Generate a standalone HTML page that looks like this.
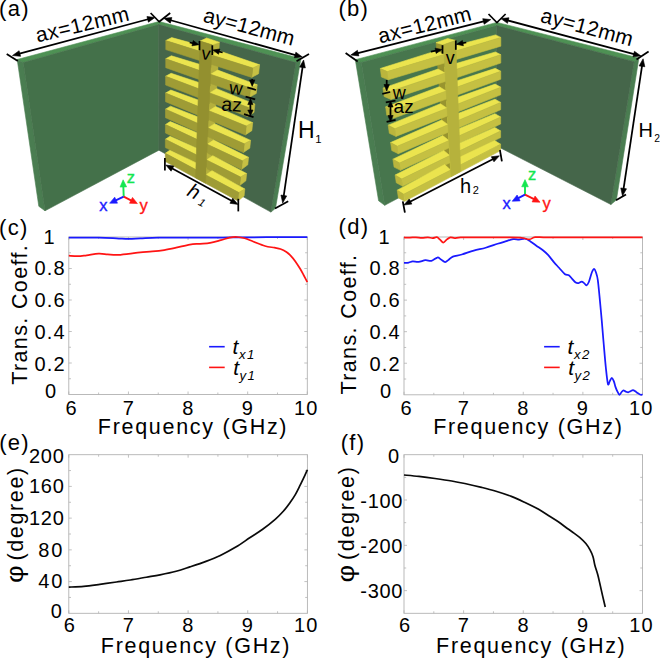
<!DOCTYPE html>
<html><head><meta charset="utf-8"><title>figure</title>
<style>html,body{margin:0;padding:0;background:#fff;}svg{display:block;}text{font-family:"Liberation Sans",sans-serif;}</style>
</head><body>
<svg width="660" height="658" viewBox="0 0 660 658">
<rect x="0" y="0" width="660" height="658" fill="#ffffff"/>
<g>
<rect x="68.80" y="237.00" width="238.50" height="157.50" fill="none" stroke="#b2b2b2" stroke-width="0.9"/>
<path d="M68.80,394.50 v-3.00 M68.80,237.00 v3.00" stroke="#b2b2b2" stroke-width="0.8" fill="none"/>
<path d="M98.61,394.50 v-2.00 M98.61,237.00 v2.00" stroke="#b2b2b2" stroke-width="0.8" fill="none"/>
<path d="M128.43,394.50 v-3.00 M128.43,237.00 v3.00" stroke="#b2b2b2" stroke-width="0.8" fill="none"/>
<path d="M158.24,394.50 v-2.00 M158.24,237.00 v2.00" stroke="#b2b2b2" stroke-width="0.8" fill="none"/>
<path d="M188.05,394.50 v-3.00 M188.05,237.00 v3.00" stroke="#b2b2b2" stroke-width="0.8" fill="none"/>
<path d="M217.86,394.50 v-2.00 M217.86,237.00 v2.00" stroke="#b2b2b2" stroke-width="0.8" fill="none"/>
<path d="M247.68,394.50 v-3.00 M247.68,237.00 v3.00" stroke="#b2b2b2" stroke-width="0.8" fill="none"/>
<path d="M277.49,394.50 v-2.00 M277.49,237.00 v2.00" stroke="#b2b2b2" stroke-width="0.8" fill="none"/>
<path d="M307.30,394.50 v-3.00 M307.30,237.00 v3.00" stroke="#b2b2b2" stroke-width="0.8" fill="none"/>
<path d="M68.80,363.00 h3 M307.30,363.00 h-3" stroke="#b2b2b2" stroke-width="0.8" fill="none"/>
<path d="M68.80,331.50 h3 M307.30,331.50 h-3" stroke="#b2b2b2" stroke-width="0.8" fill="none"/>
<path d="M68.80,300.00 h3 M307.30,300.00 h-3" stroke="#b2b2b2" stroke-width="0.8" fill="none"/>
<path d="M68.80,268.50 h3 M307.30,268.50 h-3" stroke="#b2b2b2" stroke-width="0.8" fill="none"/>
<path d="M68.80,378.75 h2.2 M307.30,378.75 h-2.2" stroke="#b2b2b2" stroke-width="0.8" fill="none"/>
<path d="M68.80,347.25 h2.2 M307.30,347.25 h-2.2" stroke="#b2b2b2" stroke-width="0.8" fill="none"/>
<path d="M68.80,315.75 h2.2 M307.30,315.75 h-2.2" stroke="#b2b2b2" stroke-width="0.8" fill="none"/>
<path d="M68.80,284.25 h2.2 M307.30,284.25 h-2.2" stroke="#b2b2b2" stroke-width="0.8" fill="none"/>
<path d="M68.80,252.75 h2.2 M307.30,252.75 h-2.2" stroke="#b2b2b2" stroke-width="0.8" fill="none"/>
<path d="M68.80,237.63 C73.77,237.63 90.66,237.53 98.61,237.63 C106.56,237.73 111.53,238.05 116.50,238.26 C121.47,238.47 124.45,238.86 128.43,238.89 C132.40,238.92 135.38,238.63 140.35,238.42 C145.32,238.21 150.29,237.76 158.24,237.63 C166.19,237.50 178.11,237.63 188.05,237.63 C197.99,237.63 209.91,237.68 217.86,237.63 C225.81,237.58 230.78,237.37 235.75,237.31 C240.72,237.26 240.72,237.34 247.68,237.31 C254.63,237.29 267.55,237.18 277.49,237.16 C287.43,237.13 302.33,237.16 307.30,237.16" fill="none" stroke="#1a1aff" stroke-width="1.75" stroke-linejoin="round" stroke-linecap="butt"/>
<path d="M68.80,255.59 C70.29,255.69 74.76,256.27 77.74,256.22 C80.73,256.16 83.21,255.69 86.69,255.27 C90.17,254.85 95.13,253.85 98.61,253.69 C102.09,253.54 104.58,254.11 107.56,254.32 C110.54,254.53 113.02,255.03 116.50,254.96 C119.98,254.88 124.45,254.30 128.43,253.85 C132.40,253.41 136.38,252.67 140.35,252.28 C144.33,251.88 148.30,251.86 152.28,251.49 C156.25,251.12 160.22,250.70 164.20,250.07 C168.17,249.44 171.85,248.63 176.12,247.71 C180.40,246.79 185.86,245.22 189.84,244.56 C193.81,243.90 196.60,244.06 199.97,243.77 C203.35,243.48 206.63,243.43 210.11,242.83 C213.59,242.22 217.56,241.02 220.84,240.15 C224.12,239.28 227.10,238.16 229.79,237.63 C232.47,237.10 234.46,236.90 236.94,237.00 C239.43,237.10 241.91,237.47 244.69,238.26 C247.48,239.05 250.26,240.44 253.64,241.72 C257.02,243.01 261.49,244.98 264.97,245.98 C268.44,246.98 271.92,247.21 274.51,247.71 C277.09,248.21 278.48,248.26 280.47,248.97 C282.46,249.68 284.74,250.86 286.43,251.96 C288.12,253.06 289.11,254.01 290.61,255.59 C292.10,257.16 293.79,259.21 295.38,261.41 C296.97,263.62 298.75,266.50 300.15,268.81 C301.54,271.12 302.53,273.07 303.72,275.27 C304.91,277.48 306.70,280.92 307.30,282.05" fill="none" stroke="#ff1414" stroke-width="1.75" stroke-linejoin="round" stroke-linecap="butt"/>
</g>
<path d="M209.10,346.7 h15.6" stroke="#1a1aff" stroke-width="1.6"/><path d="M209.10,367.4 h15.6" stroke="#ff1414" stroke-width="1.6"/>
<text x="232.60" y="353.7" font-size="21" font-style="italic" font-family="Liberation Sans, sans-serif">t</text><text x="239.00" y="358.7" font-size="13.2" font-style="italic" letter-spacing="1.4" font-family="Liberation Sans, sans-serif">x1</text>
<text x="233.30" y="374.7" font-size="21" font-style="italic" font-family="Liberation Sans, sans-serif">t</text><text x="239.40" y="379.7" font-size="13.2" font-style="italic" letter-spacing="1.4" font-family="Liberation Sans, sans-serif">y1</text>
<g>
<rect x="404.00" y="237.00" width="238.50" height="157.80" fill="none" stroke="#b2b2b2" stroke-width="0.9"/>
<path d="M404.00,394.80 v-3.00 M404.00,237.00 v3.00" stroke="#b2b2b2" stroke-width="0.8" fill="none"/>
<path d="M433.81,394.80 v-2.00 M433.81,237.00 v2.00" stroke="#b2b2b2" stroke-width="0.8" fill="none"/>
<path d="M463.62,394.80 v-3.00 M463.62,237.00 v3.00" stroke="#b2b2b2" stroke-width="0.8" fill="none"/>
<path d="M493.44,394.80 v-2.00 M493.44,237.00 v2.00" stroke="#b2b2b2" stroke-width="0.8" fill="none"/>
<path d="M523.25,394.80 v-3.00 M523.25,237.00 v3.00" stroke="#b2b2b2" stroke-width="0.8" fill="none"/>
<path d="M553.06,394.80 v-2.00 M553.06,237.00 v2.00" stroke="#b2b2b2" stroke-width="0.8" fill="none"/>
<path d="M582.88,394.80 v-3.00 M582.88,237.00 v3.00" stroke="#b2b2b2" stroke-width="0.8" fill="none"/>
<path d="M612.69,394.80 v-2.00 M612.69,237.00 v2.00" stroke="#b2b2b2" stroke-width="0.8" fill="none"/>
<path d="M642.50,394.80 v-3.00 M642.50,237.00 v3.00" stroke="#b2b2b2" stroke-width="0.8" fill="none"/>
<path d="M404.00,363.24 h3 M642.50,363.24 h-3" stroke="#b2b2b2" stroke-width="0.8" fill="none"/>
<path d="M404.00,331.68 h3 M642.50,331.68 h-3" stroke="#b2b2b2" stroke-width="0.8" fill="none"/>
<path d="M404.00,300.12 h3 M642.50,300.12 h-3" stroke="#b2b2b2" stroke-width="0.8" fill="none"/>
<path d="M404.00,268.56 h3 M642.50,268.56 h-3" stroke="#b2b2b2" stroke-width="0.8" fill="none"/>
<path d="M404.00,379.02 h2.2 M642.50,379.02 h-2.2" stroke="#b2b2b2" stroke-width="0.8" fill="none"/>
<path d="M404.00,347.46 h2.2 M642.50,347.46 h-2.2" stroke="#b2b2b2" stroke-width="0.8" fill="none"/>
<path d="M404.00,315.90 h2.2 M642.50,315.90 h-2.2" stroke="#b2b2b2" stroke-width="0.8" fill="none"/>
<path d="M404.00,284.34 h2.2 M642.50,284.34 h-2.2" stroke="#b2b2b2" stroke-width="0.8" fill="none"/>
<path d="M404.00,252.78 h2.2 M642.50,252.78 h-2.2" stroke="#b2b2b2" stroke-width="0.8" fill="none"/>
<path d="M404.00,262.88 C404.80,262.83 407.32,262.80 408.77,262.56 C410.22,262.33 411.07,261.56 412.71,261.46 C414.34,261.35 416.48,262.14 418.61,261.93 C420.73,261.72 423.33,260.38 425.47,260.20 C427.60,260.01 429.44,261.27 431.43,260.83 C433.42,260.38 435.80,257.75 437.39,257.51 C438.98,257.28 439.68,258.64 440.97,259.41 C442.26,260.17 443.85,262.04 445.14,262.09 C446.43,262.14 447.43,260.64 448.72,259.72 C450.01,258.80 450.71,257.44 452.89,256.57 C455.08,255.70 458.36,255.52 461.84,254.52 C465.31,253.52 469.79,251.70 473.76,250.57 C477.74,249.44 481.71,248.86 485.69,247.73 C489.66,246.60 494.33,244.84 497.61,243.79 C500.89,242.73 502.78,242.18 505.36,241.42 C507.95,240.66 510.83,239.52 513.11,239.21 C515.40,238.89 517.09,239.60 519.08,239.52 C521.06,239.45 523.15,238.42 525.04,238.74 C526.93,239.05 528.52,240.26 530.40,241.42 C532.29,242.58 534.28,244.21 536.37,245.68 C538.45,247.15 540.94,248.68 542.93,250.26 C544.91,251.83 546.50,253.20 548.29,255.15 C550.08,257.09 551.87,259.83 553.66,261.93 C555.45,264.04 557.14,265.72 559.02,267.77 C560.91,269.82 563.35,273.00 564.99,274.24 C566.63,275.48 567.67,274.42 568.86,275.19 C570.06,275.95 571.00,277.58 572.14,278.82 C573.29,280.05 574.63,281.89 575.72,282.60 C576.81,283.31 577.71,283.24 578.70,283.08 C579.69,282.92 580.79,281.66 581.68,281.66 C582.58,281.66 583.27,282.47 584.07,283.08 C584.86,283.68 585.66,285.47 586.45,285.29 C587.25,285.10 587.94,284.10 588.84,281.97 C589.73,279.84 590.92,274.69 591.82,272.50 C592.71,270.32 593.51,268.88 594.20,268.88 C594.90,268.88 595.40,270.69 595.99,272.50 C596.59,274.32 597.19,275.69 597.78,279.76 C598.38,283.84 598.90,290.10 599.57,296.96 C600.24,303.83 601.08,313.06 601.78,320.95 C602.47,328.84 603.07,336.55 603.74,344.30 C604.42,352.06 605.13,360.90 605.83,367.50 C606.53,374.10 607.27,381.60 607.92,383.91 C608.56,386.23 609.05,382.41 609.71,381.39 C610.36,380.36 611.16,377.76 611.85,377.76 C612.55,377.76 613.29,379.91 613.88,381.39 C614.47,382.86 614.77,384.88 615.37,386.59 C615.97,388.30 616.77,390.28 617.46,391.64 C618.14,393.01 618.79,394.75 619.48,394.80 C620.18,394.85 620.98,392.70 621.63,391.96 C622.29,391.22 622.72,390.43 623.42,390.38 C624.12,390.33 625.01,391.33 625.81,391.64 C626.60,391.96 627.40,392.35 628.19,392.28 C628.99,392.20 629.78,391.54 630.58,391.17 C631.37,390.80 632.17,390.04 632.96,390.07 C633.75,390.09 634.65,390.88 635.35,391.33 C636.04,391.78 636.44,392.28 637.13,392.75 C637.83,393.22 638.82,393.83 639.52,394.17 C640.21,394.51 640.81,394.80 641.31,394.80 C641.80,394.80 642.30,394.27 642.50,394.17" fill="none" stroke="#1a1aff" stroke-width="1.75" stroke-linejoin="round" stroke-linecap="butt"/>
<path d="M404.00,237.47 C404.99,237.50 407.97,237.66 409.96,237.63 C411.95,237.60 413.94,237.26 415.93,237.32 C417.91,237.37 419.90,237.95 421.89,237.95 C423.88,237.95 426.06,237.29 427.85,237.32 C429.64,237.34 431.13,238.13 432.62,238.10 C434.11,238.08 435.60,236.95 436.79,237.16 C437.99,237.37 438.68,238.47 439.77,239.37 C440.87,240.26 442.16,242.52 443.35,242.52 C444.55,242.52 445.74,240.23 446.93,239.37 C448.12,238.50 449.22,237.53 450.51,237.32 C451.80,237.11 452.99,238.10 454.68,238.10 C456.37,238.10 457.17,237.42 460.64,237.32 C464.12,237.21 469.09,237.45 475.55,237.47 C482.01,237.50 491.95,237.45 499.40,237.47 C506.85,237.50 515.30,237.32 520.27,237.63 C525.24,237.95 526.73,239.45 529.21,239.37 C531.70,239.29 532.19,237.50 535.17,237.16 C538.16,236.82 539.15,237.29 547.10,237.32 C555.05,237.34 571.94,237.32 582.88,237.32 C593.81,237.32 602.75,237.32 612.69,237.32 C622.62,237.32 637.53,237.32 642.50,237.32" fill="none" stroke="#ff1414" stroke-width="1.75" stroke-linejoin="round" stroke-linecap="butt"/>
</g>
<path d="M544.10,346.7 h15.6" stroke="#1a1aff" stroke-width="1.6"/><path d="M544.10,367.4 h15.6" stroke="#ff1414" stroke-width="1.6"/>
<text x="567.60" y="353.7" font-size="21" font-style="italic" font-family="Liberation Sans, sans-serif">t</text><text x="574.00" y="358.7" font-size="13.2" font-style="italic" letter-spacing="1.4" font-family="Liberation Sans, sans-serif">x2</text>
<text x="568.30" y="374.7" font-size="21" font-style="italic" font-family="Liberation Sans, sans-serif">t</text><text x="574.40" y="379.7" font-size="13.2" font-style="italic" letter-spacing="1.4" font-family="Liberation Sans, sans-serif">y2</text>
<g>
<rect x="68.80" y="454.70" width="238.60" height="158.60" fill="none" stroke="#b2b2b2" stroke-width="0.9"/>
<path d="M68.80,613.30 v-3.00 M68.80,454.70 v3.00" stroke="#b2b2b2" stroke-width="0.8" fill="none"/>
<path d="M98.62,613.30 v-2.00 M98.62,454.70 v2.00" stroke="#b2b2b2" stroke-width="0.8" fill="none"/>
<path d="M128.45,613.30 v-3.00 M128.45,454.70 v3.00" stroke="#b2b2b2" stroke-width="0.8" fill="none"/>
<path d="M158.27,613.30 v-2.00 M158.27,454.70 v2.00" stroke="#b2b2b2" stroke-width="0.8" fill="none"/>
<path d="M188.10,613.30 v-3.00 M188.10,454.70 v3.00" stroke="#b2b2b2" stroke-width="0.8" fill="none"/>
<path d="M217.92,613.30 v-2.00 M217.92,454.70 v2.00" stroke="#b2b2b2" stroke-width="0.8" fill="none"/>
<path d="M247.75,613.30 v-3.00 M247.75,454.70 v3.00" stroke="#b2b2b2" stroke-width="0.8" fill="none"/>
<path d="M277.57,613.30 v-2.00 M277.57,454.70 v2.00" stroke="#b2b2b2" stroke-width="0.8" fill="none"/>
<path d="M307.40,613.30 v-3.00 M307.40,454.70 v3.00" stroke="#b2b2b2" stroke-width="0.8" fill="none"/>
<path d="M68.80,581.58 h3 M307.40,581.58 h-3" stroke="#b2b2b2" stroke-width="0.8" fill="none"/>
<path d="M68.80,549.86 h3 M307.40,549.86 h-3" stroke="#b2b2b2" stroke-width="0.8" fill="none"/>
<path d="M68.80,518.14 h3 M307.40,518.14 h-3" stroke="#b2b2b2" stroke-width="0.8" fill="none"/>
<path d="M68.80,486.42 h3 M307.40,486.42 h-3" stroke="#b2b2b2" stroke-width="0.8" fill="none"/>
<path d="M68.80,597.44 h2.2 M307.40,597.44 h-2.2" stroke="#b2b2b2" stroke-width="0.8" fill="none"/>
<path d="M68.80,565.72 h2.2 M307.40,565.72 h-2.2" stroke="#b2b2b2" stroke-width="0.8" fill="none"/>
<path d="M68.80,534.00 h2.2 M307.40,534.00 h-2.2" stroke="#b2b2b2" stroke-width="0.8" fill="none"/>
<path d="M68.80,502.28 h2.2 M307.40,502.28 h-2.2" stroke="#b2b2b2" stroke-width="0.8" fill="none"/>
<path d="M68.80,470.56 h2.2 M307.40,470.56 h-2.2" stroke="#b2b2b2" stroke-width="0.8" fill="none"/>
<path d="M68.80,587.13 C71.29,587.00 78.54,586.80 83.71,586.34 C88.88,585.88 94.35,585.08 99.82,584.36 C105.29,583.63 111.45,582.70 116.52,581.98 C121.59,581.25 125.27,580.79 130.24,579.99 C135.21,579.20 141.37,578.08 146.34,577.22 C151.32,576.36 155.09,575.83 160.06,574.84 C165.04,573.85 171.20,572.59 176.17,571.27 C181.14,569.95 184.92,568.56 189.89,566.91 C194.86,565.26 200.92,563.27 206.00,561.36 C211.07,559.44 215.34,557.79 220.31,555.41 C225.28,553.03 230.85,550.07 235.82,547.08 C240.79,544.10 245.66,540.46 250.14,537.49 C254.61,534.52 258.49,532.27 262.66,529.24 C266.84,526.22 271.71,522.37 275.19,519.33 C278.67,516.29 281.05,513.80 283.54,511.00 C286.03,508.20 288.11,505.29 290.10,502.52 C292.09,499.74 293.78,497.27 295.47,494.35 C297.16,491.43 298.85,487.77 300.24,484.99 C301.63,482.22 302.63,480.23 303.82,477.70 C305.01,475.16 306.80,471.09 307.40,469.77" fill="none" stroke="#0a0a0a" stroke-width="1.70" stroke-linejoin="round" stroke-linecap="butt"/>
</g>
<g>
<rect x="404.00" y="454.70" width="238.50" height="158.60" fill="none" stroke="#b2b2b2" stroke-width="0.9"/>
<path d="M404.00,613.30 v-3.00 M404.00,454.70 v3.00" stroke="#b2b2b2" stroke-width="0.8" fill="none"/>
<path d="M433.81,613.30 v-2.00 M433.81,454.70 v2.00" stroke="#b2b2b2" stroke-width="0.8" fill="none"/>
<path d="M463.62,613.30 v-3.00 M463.62,454.70 v3.00" stroke="#b2b2b2" stroke-width="0.8" fill="none"/>
<path d="M493.44,613.30 v-2.00 M493.44,454.70 v2.00" stroke="#b2b2b2" stroke-width="0.8" fill="none"/>
<path d="M523.25,613.30 v-3.00 M523.25,454.70 v3.00" stroke="#b2b2b2" stroke-width="0.8" fill="none"/>
<path d="M553.06,613.30 v-2.00 M553.06,454.70 v2.00" stroke="#b2b2b2" stroke-width="0.8" fill="none"/>
<path d="M582.88,613.30 v-3.00 M582.88,454.70 v3.00" stroke="#b2b2b2" stroke-width="0.8" fill="none"/>
<path d="M612.69,613.30 v-2.00 M612.69,454.70 v2.00" stroke="#b2b2b2" stroke-width="0.8" fill="none"/>
<path d="M642.50,613.30 v-3.00 M642.50,454.70 v3.00" stroke="#b2b2b2" stroke-width="0.8" fill="none"/>
<path d="M404.00,590.64 h3 M642.50,590.64 h-3" stroke="#b2b2b2" stroke-width="0.8" fill="none"/>
<path d="M404.00,545.33 h3 M642.50,545.33 h-3" stroke="#b2b2b2" stroke-width="0.8" fill="none"/>
<path d="M404.00,500.01 h3 M642.50,500.01 h-3" stroke="#b2b2b2" stroke-width="0.8" fill="none"/>
<path d="M404.00,477.36 h2.2 M642.50,477.36 h-2.2" stroke="#b2b2b2" stroke-width="0.8" fill="none"/>
<path d="M404.00,522.67 h2.2 M642.50,522.67 h-2.2" stroke="#b2b2b2" stroke-width="0.8" fill="none"/>
<path d="M404.00,567.99 h2.2 M642.50,567.99 h-2.2" stroke="#b2b2b2" stroke-width="0.8" fill="none"/>
<path d="M404.00,475.00 C406.48,475.24 413.74,475.87 418.91,476.45 C424.07,477.03 429.54,477.73 435.00,478.49 C440.47,479.25 446.73,480.14 451.70,480.98 C456.67,481.82 459.85,482.46 464.82,483.52 C469.79,484.58 476.44,486.09 481.51,487.33 C486.58,488.56 490.26,489.44 495.23,490.95 C500.20,492.46 506.36,494.46 511.32,496.39 C516.29,498.31 520.57,500.39 525.04,502.51 C529.51,504.62 533.98,506.74 538.16,509.08 C542.33,511.41 546.60,514.32 550.08,516.51 C553.56,518.70 556.14,520.21 559.02,522.22 C561.91,524.23 564.89,526.75 567.37,528.56 C569.86,530.37 571.84,531.58 573.93,533.09 C576.02,534.60 577.91,535.89 579.89,537.63 C581.88,539.36 584.17,541.48 585.86,543.52 C587.55,545.56 588.84,547.67 590.03,549.86 C591.22,552.05 592.22,554.13 593.01,556.66 C593.81,559.19 594.00,562.02 594.80,565.04 C595.59,568.06 596.89,571.45 597.78,574.78 C598.68,578.11 599.37,581.55 600.17,585.02 C600.96,588.50 601.71,591.97 602.55,595.63 C603.40,599.28 604.79,605.07 605.23,606.96" fill="none" stroke="#0a0a0a" stroke-width="1.70" stroke-linejoin="round" stroke-linecap="butt"/>
</g>
<text x="65.70" y="275.30" font-size="20.00" text-anchor="end" font-family="Liberation Sans, sans-serif" letter-spacing="1.10"  fill="#000">0.8</text>
<text x="65.70" y="307.20" font-size="20.00" text-anchor="end" font-family="Liberation Sans, sans-serif" letter-spacing="1.10"  fill="#000">0.6</text>
<text x="65.70" y="339.20" font-size="20.00" text-anchor="end" font-family="Liberation Sans, sans-serif" letter-spacing="1.10"  fill="#000">0.4</text>
<text x="65.70" y="371.10" font-size="20.00" text-anchor="end" font-family="Liberation Sans, sans-serif" letter-spacing="1.10"  fill="#000">0.2</text>
<text x="43.60" y="244.00" font-size="20.00" text-anchor="start" font-family="Liberation Sans, sans-serif"   fill="#000">1</text>
<text x="57.30" y="398.40" font-size="20.00" text-anchor="end" font-family="Liberation Sans, sans-serif" letter-spacing="1.10"  fill="#000">0</text>
<text x="71.65" y="414.80" font-size="20.00" text-anchor="middle" font-family="Liberation Sans, sans-serif" letter-spacing="1.10"  fill="#000">6</text>
<text x="128.75" y="414.80" font-size="20.00" text-anchor="middle" font-family="Liberation Sans, sans-serif" letter-spacing="1.10"  fill="#000">7</text>
<text x="188.35" y="414.80" font-size="20.00" text-anchor="middle" font-family="Liberation Sans, sans-serif" letter-spacing="1.10"  fill="#000">8</text>
<text x="247.95" y="414.80" font-size="20.00" text-anchor="middle" font-family="Liberation Sans, sans-serif" letter-spacing="1.10"  fill="#000">9</text>
<text x="306.35" y="414.80" font-size="20.00" text-anchor="middle" font-family="Liberation Sans, sans-serif" letter-spacing="1.10"  fill="#000">10</text>
<text x="400.70" y="275.30" font-size="20.00" text-anchor="end" font-family="Liberation Sans, sans-serif" letter-spacing="1.10"  fill="#000">0.8</text>
<text x="400.70" y="307.20" font-size="20.00" text-anchor="end" font-family="Liberation Sans, sans-serif" letter-spacing="1.10"  fill="#000">0.6</text>
<text x="400.70" y="339.20" font-size="20.00" text-anchor="end" font-family="Liberation Sans, sans-serif" letter-spacing="1.10"  fill="#000">0.4</text>
<text x="400.70" y="371.10" font-size="20.00" text-anchor="end" font-family="Liberation Sans, sans-serif" letter-spacing="1.10"  fill="#000">0.2</text>
<text x="378.60" y="244.00" font-size="20.00" text-anchor="start" font-family="Liberation Sans, sans-serif"   fill="#000">1</text>
<text x="392.30" y="398.40" font-size="20.00" text-anchor="end" font-family="Liberation Sans, sans-serif" letter-spacing="1.10"  fill="#000">0</text>
<text x="406.65" y="414.80" font-size="20.00" text-anchor="middle" font-family="Liberation Sans, sans-serif" letter-spacing="1.10"  fill="#000">6</text>
<text x="463.75" y="414.80" font-size="20.00" text-anchor="middle" font-family="Liberation Sans, sans-serif" letter-spacing="1.10"  fill="#000">7</text>
<text x="523.35" y="414.80" font-size="20.00" text-anchor="middle" font-family="Liberation Sans, sans-serif" letter-spacing="1.10"  fill="#000">8</text>
<text x="582.95" y="414.80" font-size="20.00" text-anchor="middle" font-family="Liberation Sans, sans-serif" letter-spacing="1.10"  fill="#000">9</text>
<text x="641.35" y="414.80" font-size="20.00" text-anchor="middle" font-family="Liberation Sans, sans-serif" letter-spacing="1.10"  fill="#000">10</text>
<text x="193.05" y="434.30" font-size="21.50" text-anchor="middle" font-family="Liberation Sans, sans-serif" letter-spacing="1.70"  fill="#000">Frequency (GHz)</text>
<text x="528.35" y="434.30" font-size="21.50" text-anchor="middle" font-family="Liberation Sans, sans-serif" letter-spacing="1.70"  fill="#000">Frequency (GHz)</text>
<text transform="translate(26.60,314.30) rotate(-90.0)" font-size="21.50" text-anchor="middle" font-family="Liberation Sans, sans-serif" letter-spacing="1.37"  fill="#000">Trans. Coeff.</text>
<text transform="translate(356.00,324.00) rotate(-90.0)" font-size="21.50" text-anchor="middle" font-family="Liberation Sans, sans-serif" letter-spacing="1.37"  fill="#000">Trans. Coeff.</text>
<text x="64.50" y="462.80" font-size="20.00" text-anchor="end" font-family="Liberation Sans, sans-serif" letter-spacing="0.70"  fill="#000">200</text>
<text x="64.50" y="493.30" font-size="20.00" text-anchor="end" font-family="Liberation Sans, sans-serif" letter-spacing="0.70"  fill="#000">160</text>
<text x="64.50" y="525.10" font-size="20.00" text-anchor="end" font-family="Liberation Sans, sans-serif" letter-spacing="0.70"  fill="#000">120</text>
<text x="64.00" y="556.80" font-size="20.00" text-anchor="end" font-family="Liberation Sans, sans-serif" letter-spacing="1.70"  fill="#000">80</text>
<text x="64.00" y="588.30" font-size="20.00" text-anchor="end" font-family="Liberation Sans, sans-serif" letter-spacing="1.70"  fill="#000">40</text>
<text x="62.60" y="618.30" font-size="20.00" text-anchor="end" font-family="Liberation Sans, sans-serif" letter-spacing="0.70"  fill="#000">0</text>
<text x="403.20" y="507.50" font-size="20.00" text-anchor="end" font-family="Liberation Sans, sans-serif" letter-spacing="0.70"  fill="#000">-100</text>
<text x="403.20" y="552.80" font-size="20.00" text-anchor="end" font-family="Liberation Sans, sans-serif" letter-spacing="0.70"  fill="#000">-200</text>
<text x="403.20" y="598.20" font-size="20.00" text-anchor="end" font-family="Liberation Sans, sans-serif" letter-spacing="0.70"  fill="#000">-300</text>
<text x="399.80" y="462.60" font-size="20.00" text-anchor="end" font-family="Liberation Sans, sans-serif" letter-spacing="0.70"  fill="#000">0</text>
<text x="69.95" y="632.20" font-size="20.00" text-anchor="middle" font-family="Liberation Sans, sans-serif" letter-spacing="1.10"  fill="#000">6</text>
<text x="128.75" y="632.20" font-size="20.00" text-anchor="middle" font-family="Liberation Sans, sans-serif" letter-spacing="1.10"  fill="#000">7</text>
<text x="188.35" y="632.20" font-size="20.00" text-anchor="middle" font-family="Liberation Sans, sans-serif" letter-spacing="1.10"  fill="#000">8</text>
<text x="247.95" y="632.20" font-size="20.00" text-anchor="middle" font-family="Liberation Sans, sans-serif" letter-spacing="1.10"  fill="#000">9</text>
<text x="306.35" y="632.20" font-size="20.00" text-anchor="middle" font-family="Liberation Sans, sans-serif" letter-spacing="1.10"  fill="#000">10</text>
<text x="405.15" y="632.20" font-size="20.00" text-anchor="middle" font-family="Liberation Sans, sans-serif" letter-spacing="1.10"  fill="#000">6</text>
<text x="463.95" y="632.20" font-size="20.00" text-anchor="middle" font-family="Liberation Sans, sans-serif" letter-spacing="1.10"  fill="#000">7</text>
<text x="523.55" y="632.20" font-size="20.00" text-anchor="middle" font-family="Liberation Sans, sans-serif" letter-spacing="1.10"  fill="#000">8</text>
<text x="583.15" y="632.20" font-size="20.00" text-anchor="middle" font-family="Liberation Sans, sans-serif" letter-spacing="1.10"  fill="#000">9</text>
<text x="641.55" y="632.20" font-size="20.00" text-anchor="middle" font-family="Liberation Sans, sans-serif" letter-spacing="1.10"  fill="#000">10</text>
<text x="196.00" y="653.40" font-size="21.50" text-anchor="middle" font-family="Liberation Sans, sans-serif" letter-spacing="1.70"  fill="#000">Frequency (GHz)</text>
<text x="531.30" y="653.40" font-size="21.50" text-anchor="middle" font-family="Liberation Sans, sans-serif" letter-spacing="1.70"  fill="#000">Frequency (GHz)</text>
<text transform="translate(23.40,560.60) rotate(-90.0)" font-size="21.50" text-anchor="start" font-family="Liberation Sans, sans-serif" letter-spacing="1.65"  fill="#000">(degree)</text>
<text transform="translate(23.40,583.00) rotate(-90) scale(1.27,1.08)" font-size="21.5" font-family="Liberation Sans, sans-serif" fill="#000">φ</text>
<text transform="translate(353.90,560.00) rotate(-90.0)" font-size="21.50" text-anchor="start" font-family="Liberation Sans, sans-serif" letter-spacing="1.65"  fill="#000">(degree)</text>
<text transform="translate(353.90,582.40) rotate(-90) scale(1.27,1.08)" font-size="21.5" font-family="Liberation Sans, sans-serif" fill="#000">φ</text>
<text x="-1.0" y="16.2" font-size="22" letter-spacing="1.3" font-family="Liberation Sans, sans-serif" fill="#000">(a)</text>
<text x="338.4" y="16.2" font-size="22" letter-spacing="1.3" font-family="Liberation Sans, sans-serif" fill="#000">(b)</text>
<text x="-1.0" y="234.6" font-size="22" letter-spacing="1.3" font-family="Liberation Sans, sans-serif" fill="#000">(c)</text>
<text x="338.6" y="234.4" font-size="22" letter-spacing="1.3" font-family="Liberation Sans, sans-serif" fill="#000">(d)</text>
<text x="-0.8" y="450.1" font-size="22" letter-spacing="1.3" font-family="Liberation Sans, sans-serif" fill="#000">(e)</text>
<text x="340.7" y="449.9" font-size="22" letter-spacing="1.3" font-family="Liberation Sans, sans-serif" fill="#000">(f)</text>
<polygon points="17.20,59.50 159.00,21.50 158.60,24.60 23.30,62.50" fill="#4e9154" stroke="#4e9154" stroke-width="0.6" stroke-linejoin="round" />
<polygon points="159.00,21.50 300.90,58.50 295.90,62.60 158.60,24.60" fill="#4e9154" stroke="#4e9154" stroke-width="0.6" stroke-linejoin="round" />
<polygon points="17.20,59.50 23.30,62.50 45.00,210.80 38.80,206.30" fill="#4a7d51" stroke="#4a7d51" stroke-width="0.6" stroke-linejoin="round" />
<polygon points="300.90,58.50 295.90,62.60 270.90,212.10 275.50,208.30" fill="#4a7d51" stroke="#4a7d51" stroke-width="0.6" stroke-linejoin="round" />
<polygon points="23.30,62.50 158.60,24.60 158.90,150.20 45.00,210.80" fill="#44714a" stroke="#44714a" stroke-width="0.6" stroke-linejoin="round" />
<polygon points="158.60,24.60 295.90,62.60 270.90,212.10 158.90,150.20" fill="#45664a" stroke="#45664a" stroke-width="0.6" stroke-linejoin="round" />
<polygon points="212.00,44.80 219.40,42.20 211.50,180.30 205.50,183.10" fill="#b5b03d" stroke="#b5b03d" stroke-width="0.6" stroke-linejoin="round" />
<polygon points="200.10,41.10 206.70,38.00 219.40,42.20 212.00,44.80" fill="#ebe44e" stroke="#ebe44e" stroke-width="0.6" stroke-linejoin="round" />
<polygon points="171.70,37.60 211.76,48.59 211.52,55.02 165.80,40.60" fill="#ebe44e" stroke="#ebe44e" stroke-width="0.6" stroke-linejoin="round" />
<polygon points="218.83,50.78 259.60,64.80 252.70,68.00 211.52,55.02" fill="#ebe44e" stroke="#ebe44e" stroke-width="0.6" stroke-linejoin="round" />
<polygon points="252.70,68.00 259.60,64.80 258.60,73.70 251.70,77.40" fill="#c6c044" stroke="#c6c044" stroke-width="0.6" stroke-linejoin="round" />
<polygon points="165.80,40.60 252.70,68.00 251.70,77.40 165.80,49.60" fill="#9f9c35" stroke="#9f9c35" stroke-width="0.6" stroke-linejoin="round" />
<polygon points="171.39,55.79 210.86,67.75 210.61,74.32 165.72,58.79" fill="#ebe44e" stroke="#ebe44e" stroke-width="0.6" stroke-linejoin="round" />
<polygon points="217.73,70.08 257.21,84.85 250.46,88.10 210.61,74.32" fill="#ebe44e" stroke="#ebe44e" stroke-width="0.6" stroke-linejoin="round" />
<polygon points="250.46,88.10 257.21,84.85 256.26,93.44 249.49,97.34" fill="#c6c044" stroke="#c6c044" stroke-width="0.6" stroke-linejoin="round" />
<polygon points="165.72,58.79 250.46,88.10 249.49,97.34 165.72,67.66" fill="#9f9c35" stroke="#9f9c35" stroke-width="0.6" stroke-linejoin="round" />
<polygon points="171.10,73.29 209.99,86.20 209.74,92.90 165.64,76.29" fill="#ebe44e" stroke="#ebe44e" stroke-width="0.6" stroke-linejoin="round" />
<polygon points="216.66,88.65 254.91,104.13 248.30,107.42 209.74,92.90" fill="#ebe44e" stroke="#ebe44e" stroke-width="0.6" stroke-linejoin="round" />
<polygon points="248.30,107.42 254.91,104.13 254.01,112.43 247.36,116.51" fill="#c6c044" stroke="#c6c044" stroke-width="0.6" stroke-linejoin="round" />
<polygon points="165.64,76.29 248.30,107.42 247.36,116.51 165.64,85.03" fill="#9f9c35" stroke="#9f9c35" stroke-width="0.6" stroke-linejoin="round" />
<polygon points="170.82,90.08 209.16,103.93 208.90,110.76 165.57,93.08" fill="#ebe44e" stroke="#ebe44e" stroke-width="0.6" stroke-linejoin="round" />
<polygon points="215.64,106.50 252.71,122.64 246.23,125.98 208.90,110.76" fill="#ebe44e" stroke="#ebe44e" stroke-width="0.6" stroke-linejoin="round" />
<polygon points="246.23,125.98 252.71,122.64 251.85,130.65 245.32,134.91" fill="#c6c044" stroke="#c6c044" stroke-width="0.6" stroke-linejoin="round" />
<polygon points="165.57,93.08 246.23,125.98 245.32,134.91 165.57,101.71" fill="#9f9c35" stroke="#9f9c35" stroke-width="0.6" stroke-linejoin="round" />
<polygon points="170.54,106.18 208.36,120.94 208.09,127.89 165.50,109.18" fill="#ebe44e" stroke="#ebe44e" stroke-width="0.6" stroke-linejoin="round" />
<polygon points="214.66,123.63 250.59,140.38 244.24,143.77 208.09,127.89" fill="#ebe44e" stroke="#ebe44e" stroke-width="0.6" stroke-linejoin="round" />
<polygon points="244.24,143.77 250.59,140.38 249.78,148.13 243.36,152.56" fill="#c6c044" stroke="#c6c044" stroke-width="0.6" stroke-linejoin="round" />
<polygon points="165.50,109.18 244.24,143.77 243.36,152.56 165.50,117.70" fill="#9f9c35" stroke="#9f9c35" stroke-width="0.6" stroke-linejoin="round" />
<polygon points="170.28,121.59 207.59,137.23 207.32,144.30 165.43,124.59" fill="#ebe44e" stroke="#ebe44e" stroke-width="0.6" stroke-linejoin="round" />
<polygon points="213.72,140.03 248.57,157.36 242.34,160.78 207.32,144.30" fill="#ebe44e" stroke="#ebe44e" stroke-width="0.6" stroke-linejoin="round" />
<polygon points="242.34,160.78 248.57,157.36 247.79,164.84 241.49,169.44" fill="#c6c044" stroke="#c6c044" stroke-width="0.6" stroke-linejoin="round" />
<polygon points="165.43,124.59 242.34,160.78 241.49,169.44 165.43,132.99" fill="#9f9c35" stroke="#9f9c35" stroke-width="0.6" stroke-linejoin="round" />
<polygon points="170.04,136.29 206.86,152.81 206.59,159.99 165.36,139.29" fill="#ebe44e" stroke="#ebe44e" stroke-width="0.6" stroke-linejoin="round" />
<polygon points="212.83,155.71 246.64,173.56 240.53,177.03 206.59,159.99" fill="#ebe44e" stroke="#ebe44e" stroke-width="0.6" stroke-linejoin="round" />
<polygon points="240.53,177.03 246.64,173.56 245.90,180.80 239.70,185.55" fill="#c6c044" stroke="#c6c044" stroke-width="0.6" stroke-linejoin="round" />
<polygon points="165.36,139.29 240.53,177.03 239.70,185.55 165.36,147.59" fill="#9f9c35" stroke="#9f9c35" stroke-width="0.6" stroke-linejoin="round" />
<polygon points="169.80,150.30 206.16,167.66 205.88,174.94 165.30,153.30" fill="#ebe44e" stroke="#ebe44e" stroke-width="0.6" stroke-linejoin="round" />
<polygon points="211.97,170.66 244.80,189.00 238.80,192.50 205.88,174.94" fill="#ebe44e" stroke="#ebe44e" stroke-width="0.6" stroke-linejoin="round" />
<polygon points="238.80,192.50 244.80,189.00 244.10,196.00 238.00,200.90" fill="#c6c044" stroke="#c6c044" stroke-width="0.6" stroke-linejoin="round" />
<polygon points="165.30,153.30 238.80,192.50 238.00,200.90 165.30,161.50" fill="#9f9c35" stroke="#9f9c35" stroke-width="0.6" stroke-linejoin="round" />
<polygon points="200.10,41.10 212.00,44.80 205.50,183.10 195.60,177.80" fill="#93902f" stroke="#93902f" stroke-width="0.6" stroke-linejoin="round" />
<path d="M17.64,54.13 L149.86,18.77" stroke="#000" stroke-width="1.75" fill="none"/>
<polygon points="12.50,55.50 19.09,50.74 20.59,56.34" fill="#000" stroke="#000" stroke-width="0.6" stroke-linejoin="round" />
<polygon points="155.00,17.40 148.41,22.16 146.91,16.56" fill="#000" stroke="#000" stroke-width="0.6" stroke-linejoin="round" />
<path d="M6.70,54.00 L17.80,61.00" stroke="#000" stroke-width="1.75" fill="none"/>
<path d="M150.60,13.00 L159.40,22.00" stroke="#000" stroke-width="1.75" fill="none"/>
<path d="M170.20,13.00 L158.80,22.00" stroke="#000" stroke-width="1.75" fill="none"/>
<path d="M168.92,19.73 L297.28,55.57" stroke="#000" stroke-width="1.75" fill="none"/>
<polygon points="163.80,18.30 171.90,17.55 170.34,23.14" fill="#000" stroke="#000" stroke-width="0.6" stroke-linejoin="round" />
<polygon points="302.40,57.00 294.30,57.75 295.86,52.16" fill="#000" stroke="#000" stroke-width="0.6" stroke-linejoin="round" />
<path d="M296.50,61.20 L309.00,54.00" stroke="#000" stroke-width="1.75" fill="none"/>
<path d="M302.83,65.26 L283.47,197.74" stroke="#000" stroke-width="1.75" fill="none"/>
<polygon points="303.60,60.00 305.37,67.94 299.63,67.10" fill="#000" stroke="#000" stroke-width="0.6" stroke-linejoin="round" />
<polygon points="282.70,203.00 280.93,195.06 286.67,195.90" fill="#000" stroke="#000" stroke-width="0.6" stroke-linejoin="round" />
<path d="M275.00,208.40 L288.20,201.30" stroke="#000" stroke-width="1.75" fill="none"/>
<text transform="translate(37.50,42.60) rotate(-13.60)" font-size="21.00" text-anchor="start" font-family="Liberation Sans, sans-serif"  fill="#000" letter-spacing="0.45">ax=12mm</text>
<text transform="translate(202.20,21.60) rotate(15.00)" font-size="21.00" text-anchor="start" font-family="Liberation Sans, sans-serif"  fill="#000" letter-spacing="0.10">ay=12mm</text>
<path d="M189.70,42.50 L194.47,43.64" stroke="#000" stroke-width="1.75" fill="none"/>
<polygon points="198.90,44.70 191.95,45.81 193.21,40.56" fill="#000" stroke="#000" stroke-width="0.6" stroke-linejoin="round" />
<path d="M199.50,41.00 L199.50,50.30" stroke="#000" stroke-width="1.75" fill="none"/>
<path d="M222.60,52.50 L217.31,51.14" stroke="#000" stroke-width="1.75" fill="none"/>
<polygon points="212.90,50.00 219.87,49.01 218.52,54.24" fill="#000" stroke="#000" stroke-width="0.6" stroke-linejoin="round" />
<path d="M212.30,45.30 L212.30,55.00" stroke="#000" stroke-width="1.75" fill="none"/>
<text transform="translate(200.80,59.00) rotate(8.00)" font-size="18.00" text-anchor="start" font-family="Liberation Sans, sans-serif"  fill="#000" >v</text>
<path d="M252.20,79.00 L252.20,81.85" stroke="#000" stroke-width="1.75" fill="none"/>
<polygon points="252.20,86.40 249.50,79.90 254.90,79.90" fill="#000" stroke="#000" stroke-width="0.6" stroke-linejoin="round" />
<path d="M247.30,87.30 L256.00,90.00" stroke="#000" stroke-width="1.75" fill="none"/>
<path d="M245.60,96.60 L255.20,99.40" stroke="#000" stroke-width="1.75" fill="none"/>
<path d="M244.00,114.20 L253.50,117.20" stroke="#000" stroke-width="1.75" fill="none"/>
<path d="M250.40,102.80 L250.40,111.80" stroke="#000" stroke-width="1.75" fill="none"/>
<polygon points="250.40,98.60 253.00,104.60 247.80,104.60" fill="#000" stroke="#000" stroke-width="0.6" stroke-linejoin="round" />
<polygon points="250.40,116.00 247.80,110.00 253.00,110.00" fill="#000" stroke="#000" stroke-width="0.6" stroke-linejoin="round" />
<text transform="translate(228.80,93.80) rotate(6.00)" font-size="18.50" text-anchor="start" font-family="Liberation Sans, sans-serif"  fill="#000" >w</text>
<text transform="translate(221.00,110.60) rotate(4.00)" font-size="19.50" text-anchor="start" font-family="Liberation Sans, sans-serif"  fill="#000" >az</text>
<text transform="translate(298.00,138.40) rotate(0.00)" font-size="23.00" text-anchor="start" font-family="Liberation Sans, sans-serif"  fill="#000" >H</text>
<text transform="translate(315.20,143.00) rotate(0.00)" font-size="11.30" text-anchor="start" font-family="Liberation Sans, sans-serif"  fill="#000" >1</text>
<path d="M170.47,167.55 L233.33,201.85" stroke="#000" stroke-width="1.75" fill="none"/>
<polygon points="165.80,165.00 173.86,166.09 171.08,171.19" fill="#000" stroke="#000" stroke-width="0.6" stroke-linejoin="round" />
<polygon points="238.00,204.40 229.94,203.31 232.72,198.21" fill="#000" stroke="#000" stroke-width="0.6" stroke-linejoin="round" />
<path d="M164.90,158.00 L164.90,170.50" stroke="#000" stroke-width="1.75" fill="none"/>
<path d="M238.30,198.80 L238.30,211.40" stroke="#000" stroke-width="1.75" fill="none"/>
<text transform="translate(186.00,195.00) rotate(27.00)" font-size="20.00" text-anchor="start" font-family="Liberation Sans, sans-serif" font-style="italic" fill="#000" >h</text>
<text transform="translate(197.40,204.40) rotate(27.00)" font-size="11.00" text-anchor="start" font-family="Liberation Sans, sans-serif" font-style="italic" fill="#000" >1</text>
<path d="M123.70,196.60 L123.34,186.52" stroke="#14e650" stroke-width="1.90" fill="none"/>
<polygon points="123.10,179.80 126.65,186.88 120.06,187.11" fill="#14e650" stroke="#14e650" stroke-width="0.6" stroke-linejoin="round" />
<path d="M123.70,196.60 L115.24,200.56" stroke="#1a1aff" stroke-width="1.90" fill="none"/>
<polygon points="109.60,203.20 114.72,197.16 117.52,203.14" fill="#1a1aff" stroke="#1a1aff" stroke-width="0.6" stroke-linejoin="round" />
<path d="M123.70,196.60 L131.92,200.80" stroke="#ff1414" stroke-width="1.90" fill="none"/>
<polygon points="137.40,203.60 129.49,203.26 132.49,197.39" fill="#ff1414" stroke="#ff1414" stroke-width="0.6" stroke-linejoin="round" />
<text x="126.80" y="182.60" font-size="16.5" font-family="Liberation Sans, sans-serif" fill="#14e650" stroke="#14e650" stroke-width="0.35">z</text>
<text x="99.20" y="210.60" font-size="16.5" font-family="Liberation Sans, sans-serif" fill="#1a1aff" stroke="#1a1aff" stroke-width="0.35">x</text>
<text x="139.60" y="210.60" font-size="16.5" font-family="Liberation Sans, sans-serif" fill="#ff1414" stroke="#ff1414" stroke-width="0.35">y</text>
<polygon points="355.30,59.70 496.90,22.40 496.70,25.60 361.30,62.50" fill="#4e9154" stroke="#4e9154" stroke-width="0.6" stroke-linejoin="round" />
<polygon points="496.90,22.40 638.90,58.00 634.10,61.70 496.70,25.60" fill="#4e9154" stroke="#4e9154" stroke-width="0.6" stroke-linejoin="round" />
<polygon points="355.30,59.70 361.30,62.50 384.70,205.30 378.60,200.80" fill="#4a7d51" stroke="#4a7d51" stroke-width="0.6" stroke-linejoin="round" />
<polygon points="638.90,58.00 634.10,61.70 610.90,204.50 616.40,200.00" fill="#4a7d51" stroke="#4a7d51" stroke-width="0.6" stroke-linejoin="round" />
<polygon points="361.30,62.50 496.70,25.60 496.70,146.00 384.70,205.30" fill="#47764d" stroke="#47764d" stroke-width="0.6" stroke-linejoin="round" />
<polygon points="496.70,25.60 634.10,61.70 610.90,204.50 496.70,146.00" fill="#45664a" stroke="#45664a" stroke-width="0.6" stroke-linejoin="round" />
<polygon points="436.10,42.70 443.50,44.80 451.00,176.60 445.20,173.60" fill="#98942f" stroke="#98942f" stroke-width="0.6" stroke-linejoin="round" />
<polygon points="436.10,42.70 447.70,38.50 455.70,40.40 443.50,44.80" fill="#ebe44e" stroke="#ebe44e" stroke-width="0.6" stroke-linejoin="round" />
<polygon points="380.30,68.50 436.75,50.65 444.05,54.48 387.20,71.60" fill="#ebe44e" stroke="#ebe44e" stroke-width="0.6" stroke-linejoin="round" />
<polygon points="443.80,48.60 495.60,34.90 500.80,37.40 444.05,54.48" fill="#ebe44e" stroke="#ebe44e" stroke-width="0.6" stroke-linejoin="round" />
<polygon points="380.30,68.50 387.20,71.60 388.30,79.80 381.40,77.00" fill="#bab53d" stroke="#bab53d" stroke-width="0.6" stroke-linejoin="round" />
<polygon points="387.20,71.60 500.80,37.40 500.80,46.20 388.30,79.80" fill="#c5c042" stroke="#c5c042" stroke-width="0.6" stroke-linejoin="round" />
<polygon points="383.03,88.14 438.03,69.04 445.11,73.08 389.86,91.39" fill="#ebe44e" stroke="#ebe44e" stroke-width="0.6" stroke-linejoin="round" />
<polygon points="444.83,66.85 495.44,51.96 500.77,54.64 445.11,73.08" fill="#ebe44e" stroke="#ebe44e" stroke-width="0.6" stroke-linejoin="round" />
<polygon points="383.03,88.14 389.86,91.39 390.95,99.41 384.14,96.52" fill="#bab53d" stroke="#bab53d" stroke-width="0.6" stroke-linejoin="round" />
<polygon points="389.86,91.39 500.77,54.64 500.77,63.05 390.95,99.41" fill="#c5c042" stroke="#c5c042" stroke-width="0.6" stroke-linejoin="round" />
<polygon points="385.65,107.04 439.26,86.73 446.13,90.98 392.42,110.42" fill="#ebe44e" stroke="#ebe44e" stroke-width="0.6" stroke-linejoin="round" />
<polygon points="445.83,84.41 495.28,68.37 500.74,71.22 446.13,90.98" fill="#ebe44e" stroke="#ebe44e" stroke-width="0.6" stroke-linejoin="round" />
<polygon points="385.65,107.04 392.42,110.42 393.49,118.27 386.78,115.28" fill="#bab53d" stroke="#bab53d" stroke-width="0.6" stroke-linejoin="round" />
<polygon points="392.42,110.42 500.74,71.22 500.74,79.26 393.49,118.27" fill="#c5c042" stroke="#c5c042" stroke-width="0.6" stroke-linejoin="round" />
<polygon points="388.17,125.18 440.44,103.72 447.11,108.19 394.88,128.69" fill="#ebe44e" stroke="#ebe44e" stroke-width="0.6" stroke-linejoin="round" />
<polygon points="446.79,101.28 495.13,84.12 500.71,87.14 447.11,108.19" fill="#ebe44e" stroke="#ebe44e" stroke-width="0.6" stroke-linejoin="round" />
<polygon points="388.17,125.18 394.88,128.69 395.94,136.38 389.32,133.30" fill="#bab53d" stroke="#bab53d" stroke-width="0.6" stroke-linejoin="round" />
<polygon points="394.88,128.69 500.71,87.14 500.71,94.82 395.94,136.38" fill="#c5c042" stroke="#c5c042" stroke-width="0.6" stroke-linejoin="round" />
<polygon points="390.58,142.56 441.57,120.00 448.05,124.69 397.24,146.21" fill="#ebe44e" stroke="#ebe44e" stroke-width="0.6" stroke-linejoin="round" />
<polygon points="447.71,117.45 494.99,99.22 500.68,102.39 448.05,124.69" fill="#ebe44e" stroke="#ebe44e" stroke-width="0.6" stroke-linejoin="round" />
<polygon points="390.58,142.56 397.24,146.21 398.28,153.74 391.75,150.57" fill="#bab53d" stroke="#bab53d" stroke-width="0.6" stroke-linejoin="round" />
<polygon points="397.24,146.21 500.68,102.39 500.68,109.73 398.28,153.74" fill="#c5c042" stroke="#c5c042" stroke-width="0.6" stroke-linejoin="round" />
<polygon points="392.89,159.19 442.65,135.58 448.95,140.49 399.50,162.96" fill="#ebe44e" stroke="#ebe44e" stroke-width="0.6" stroke-linejoin="round" />
<polygon points="448.59,132.92 494.85,113.67 500.65,116.99 448.95,140.49" fill="#ebe44e" stroke="#ebe44e" stroke-width="0.6" stroke-linejoin="round" />
<polygon points="392.89,159.19 399.50,162.96 400.52,170.34 394.07,167.10" fill="#bab53d" stroke="#bab53d" stroke-width="0.6" stroke-linejoin="round" />
<polygon points="399.50,162.96 500.65,116.99 500.65,124.00 400.52,170.34" fill="#c5c042" stroke="#c5c042" stroke-width="0.6" stroke-linejoin="round" />
<polygon points="395.10,175.07 443.69,150.45 449.80,155.59 401.65,178.96" fill="#ebe44e" stroke="#ebe44e" stroke-width="0.6" stroke-linejoin="round" />
<polygon points="449.44,147.71 494.72,127.46 500.62,130.93 449.80,155.59" fill="#ebe44e" stroke="#ebe44e" stroke-width="0.6" stroke-linejoin="round" />
<polygon points="395.10,175.07 401.65,178.96 402.66,186.20 396.29,182.87" fill="#bab53d" stroke="#bab53d" stroke-width="0.6" stroke-linejoin="round" />
<polygon points="401.65,178.96 500.62,130.93 500.62,137.62 402.66,186.20" fill="#c5c042" stroke="#c5c042" stroke-width="0.6" stroke-linejoin="round" />
<polygon points="397.20,190.20 444.67,164.62 450.62,169.99 403.70,194.20" fill="#ebe44e" stroke="#ebe44e" stroke-width="0.6" stroke-linejoin="round" />
<polygon points="450.24,161.79 494.60,140.60 500.60,144.20 450.62,169.99" fill="#ebe44e" stroke="#ebe44e" stroke-width="0.6" stroke-linejoin="round" />
<polygon points="397.20,190.20 403.70,194.20 404.70,201.30 398.40,197.90" fill="#bab53d" stroke="#bab53d" stroke-width="0.6" stroke-linejoin="round" />
<polygon points="403.70,194.20 500.60,144.20 500.60,150.60 404.70,201.30" fill="#c5c042" stroke="#c5c042" stroke-width="0.6" stroke-linejoin="round" />
<polygon points="443.50,44.80 455.70,40.40 460.70,171.40 451.00,176.60" fill="#b6b23c" stroke="#b6b23c" stroke-width="0.6" stroke-linejoin="round" />
<path d="M355.96,53.70 L485.64,20.90" stroke="#000" stroke-width="1.75" fill="none"/>
<polygon points="350.80,55.00 357.46,50.33 358.88,55.95" fill="#000" stroke="#000" stroke-width="0.6" stroke-linejoin="round" />
<polygon points="490.80,19.60 484.14,24.27 482.72,18.65" fill="#000" stroke="#000" stroke-width="0.6" stroke-linejoin="round" />
<path d="M345.60,53.00 L357.70,61.50" stroke="#000" stroke-width="1.75" fill="none"/>
<path d="M488.50,14.00 L497.30,23.00" stroke="#000" stroke-width="1.75" fill="none"/>
<path d="M505.60,14.00 L496.50,23.00" stroke="#000" stroke-width="1.75" fill="none"/>
<path d="M506.04,19.97 L635.86,54.63" stroke="#000" stroke-width="1.75" fill="none"/>
<polygon points="500.90,18.60 508.99,17.76 507.49,23.36" fill="#000" stroke="#000" stroke-width="0.6" stroke-linejoin="round" />
<polygon points="641.00,56.00 632.91,56.84 634.41,51.24" fill="#000" stroke="#000" stroke-width="0.6" stroke-linejoin="round" />
<path d="M636.50,59.50 L648.60,51.40" stroke="#000" stroke-width="1.75" fill="none"/>
<path d="M642.31,64.06 L623.29,190.64" stroke="#000" stroke-width="1.75" fill="none"/>
<polygon points="643.10,58.80 644.84,66.75 639.10,65.88" fill="#000" stroke="#000" stroke-width="0.6" stroke-linejoin="round" />
<polygon points="622.50,195.90 620.76,187.95 626.50,188.82" fill="#000" stroke="#000" stroke-width="0.6" stroke-linejoin="round" />
<path d="M616.00,200.20 L626.00,194.40" stroke="#000" stroke-width="1.75" fill="none"/>
<text transform="translate(380.00,43.40) rotate(-14.20)" font-size="21.00" text-anchor="start" font-family="Liberation Sans, sans-serif"  fill="#000" letter-spacing="0.45">ax=12mm</text>
<text transform="translate(539.60,21.80) rotate(15.00)" font-size="21.00" text-anchor="start" font-family="Liberation Sans, sans-serif"  fill="#000" letter-spacing="0.30">ay=12mm</text>
<path d="M430.80,51.70 L437.53,50.44" stroke="#000" stroke-width="1.75" fill="none"/>
<polygon points="442.00,49.60 436.11,53.45 435.11,48.14" fill="#000" stroke="#000" stroke-width="0.6" stroke-linejoin="round" />
<path d="M442.50,45.20 L442.50,53.70" stroke="#000" stroke-width="1.75" fill="none"/>
<path d="M466.30,42.50 L460.98,43.48" stroke="#000" stroke-width="1.75" fill="none"/>
<polygon points="456.50,44.30 462.41,40.47 463.38,45.78" fill="#000" stroke="#000" stroke-width="0.6" stroke-linejoin="round" />
<path d="M455.80,40.40 L455.80,49.80" stroke="#000" stroke-width="1.75" fill="none"/>
<text transform="translate(445.80,63.60) rotate(0.00)" font-size="18.00" text-anchor="start" font-family="Liberation Sans, sans-serif"  fill="#000" >v</text>
<path d="M386.70,80.00 L386.70,86.45" stroke="#000" stroke-width="1.75" fill="none"/>
<polygon points="386.70,91.00 384.00,84.50 389.40,84.50" fill="#000" stroke="#000" stroke-width="0.6" stroke-linejoin="round" />
<path d="M382.30,93.80 L390.20,92.00" stroke="#000" stroke-width="1.75" fill="none"/>
<path d="M385.80,102.30 L395.50,100.70" stroke="#000" stroke-width="1.75" fill="none"/>
<path d="M386.60,121.90 L395.60,119.90" stroke="#000" stroke-width="1.75" fill="none"/>
<path d="M390.50,105.20 L390.50,117.30" stroke="#000" stroke-width="1.75" fill="none"/>
<polygon points="390.50,101.00 393.10,107.00 387.90,107.00" fill="#000" stroke="#000" stroke-width="0.6" stroke-linejoin="round" />
<polygon points="390.50,121.50 387.90,115.50 393.10,115.50" fill="#000" stroke="#000" stroke-width="0.6" stroke-linejoin="round" />
<text transform="translate(392.80,98.80) rotate(0.00)" font-size="18.00" text-anchor="start" font-family="Liberation Sans, sans-serif"  fill="#000" >w</text>
<text transform="translate(393.60,112.60) rotate(0.00)" font-size="19.00" text-anchor="start" font-family="Liberation Sans, sans-serif"  fill="#000" >az</text>
<text transform="translate(638.50,137.20) rotate(0.00)" font-size="20.00" text-anchor="start" font-family="Liberation Sans, sans-serif"  fill="#000" >H</text>
<text transform="translate(654.30,141.80) rotate(0.00)" font-size="10.30" text-anchor="start" font-family="Liberation Sans, sans-serif"  fill="#000" >2</text>
<path d="M408.53,202.57 L494.67,158.23" stroke="#000" stroke-width="1.75" fill="none"/>
<polygon points="403.80,205.00 409.23,198.94 411.88,204.10" fill="#000" stroke="#000" stroke-width="0.6" stroke-linejoin="round" />
<polygon points="499.40,155.80 493.97,161.86 491.32,156.70" fill="#000" stroke="#000" stroke-width="0.6" stroke-linejoin="round" />
<path d="M402.80,201.30 L404.90,212.60" stroke="#000" stroke-width="1.75" fill="none"/>
<path d="M499.90,150.00 L501.90,161.40" stroke="#000" stroke-width="1.75" fill="none"/>
<text transform="translate(460.00,193.30) rotate(0.00)" font-size="20.00" text-anchor="start" font-family="Liberation Sans, sans-serif"  fill="#000" >h</text>
<text transform="translate(472.80,193.80) rotate(0.00)" font-size="11.00" text-anchor="start" font-family="Liberation Sans, sans-serif"  fill="#000" >2</text>
<path d="M525.00,194.70 L525.00,185.64" stroke="#14e650" stroke-width="1.90" fill="none"/>
<polygon points="525.00,179.60 528.30,186.80 521.70,186.80" fill="#14e650" stroke="#14e650" stroke-width="0.6" stroke-linejoin="round" />
<path d="M525.00,194.70 L517.32,198.60" stroke="#1a1aff" stroke-width="1.90" fill="none"/>
<polygon points="512.20,201.20 517.13,195.00 520.11,200.88" fill="#1a1aff" stroke="#1a1aff" stroke-width="0.6" stroke-linejoin="round" />
<path d="M525.00,194.70 L534.00,199.20" stroke="#ff1414" stroke-width="1.90" fill="none"/>
<polygon points="540.00,202.20 532.08,201.93 535.04,196.03" fill="#ff1414" stroke="#ff1414" stroke-width="0.6" stroke-linejoin="round" />
<text x="528.00" y="180.20" font-size="16.5" font-family="Liberation Sans, sans-serif" fill="#14e650" stroke="#14e650" stroke-width="0.35">z</text>
<text x="502.40" y="209.20" font-size="16.5" font-family="Liberation Sans, sans-serif" fill="#1a1aff" stroke="#1a1aff" stroke-width="0.35">x</text>
<text x="542.40" y="208.80" font-size="16.5" font-family="Liberation Sans, sans-serif" fill="#ff1414" stroke="#ff1414" stroke-width="0.35">y</text>
</svg>
</body></html>
